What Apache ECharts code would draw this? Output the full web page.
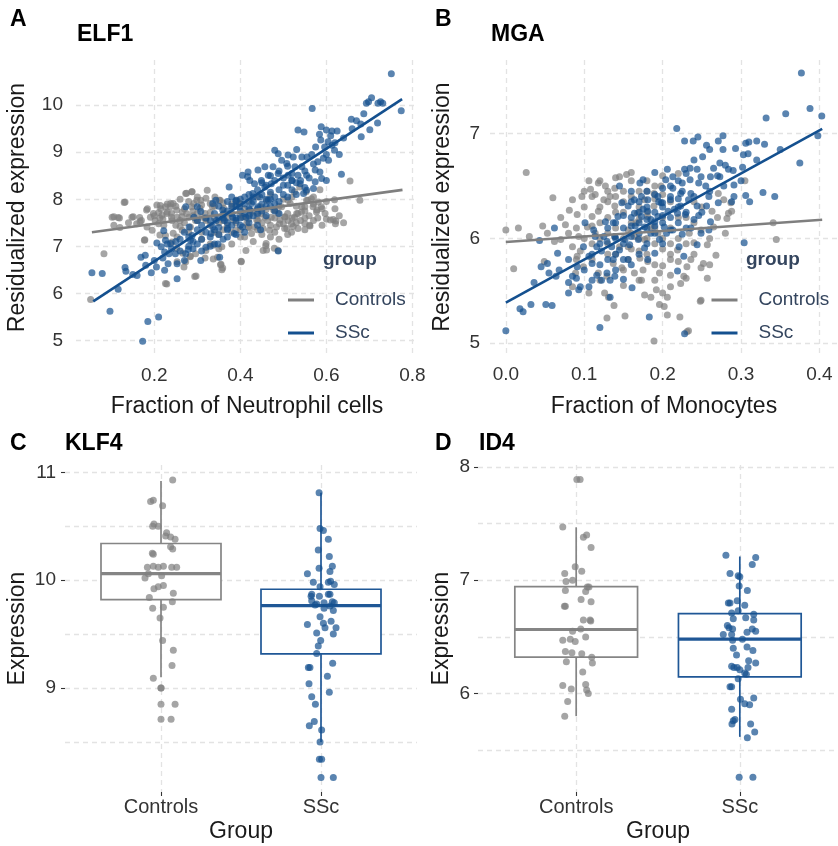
<!DOCTYPE html>
<html>
<head>
<meta charset="utf-8">
<script src="https://cdn.jsdelivr.net/npm/echarts@6/dist/echarts.min.js"></script>
<style>
  html, body { margin: 0; padding: 0; background: #ffffff; }
  #chart { width: 838px; height: 846px; }
</style>
</head>
<body>
<div id="chart"></div>
<script>
// ---------- ELF1 vs neutrophil fraction: [fraction, residualized expression] ----------
const elf1Controls = [
  [0.655,8.39],[0.678,7.98],[0.622,7.54],[0.597,7.70],[0.609,7.56],[0.562,7.43],[0.523,7.42],[0.508,7.38],
  [0.461,6.92],[0.459,7.01],[0.479,6.96],[0.402,6.68],[0.354,6.61],[0.359,6.54],[0.337,6.73],[0.318,6.75],
  [0.297,6.37],[0.229,6.20],[0.283,6.78],[0.266,6.85],[0.252,6.96],[0.178,7.14],[0.213,7.24],[0.244,7.28],
  [0.083,6.84],[0.132,7.94],[0.106,7.63],[0.119,7.60],[0.151,7.63],[0.167,7.52],[0.182,7.77],[0.198,7.70],
  [0.206,7.88],[0.213,7.60],[0.229,7.70],[0.237,7.84],[0.244,7.91],[0.252,7.77],[0.264,7.63],[0.275,7.70],
  [0.287,7.84],[0.275,8.13],[0.287,8.16],[0.299,7.98],[0.306,7.81],[0.318,7.70],[0.330,7.91],[0.341,8.05],
  [0.353,7.98],[0.361,7.81],[0.376,7.70],[0.384,7.56],[0.392,7.98],[0.399,7.91],[0.407,7.63],[0.415,7.49],
  [0.423,7.70],[0.438,7.56],[0.446,7.84],[0.461,7.98],[0.477,7.77],[0.492,7.56],[0.504,7.63],[0.516,7.91],
  [0.531,7.70],[0.543,7.84],[0.554,7.98],[0.570,8.05],[0.585,8.20],[0.578,7.77],[0.130,7.93],[0.102,7.62],
  [0.116,7.61],[0.106,7.45],[0.148,7.62],[0.052,5.87],[0.177,7.13],[0.166,7.61],[0.159,7.48],[0.184,7.80],
  [0.214,7.87],[0.226,7.84],[0.238,7.91],[0.230,7.73],[0.218,7.66],[0.202,7.55],[0.191,7.62],[0.183,7.41],
  [0.195,7.34],[0.210,7.48],[0.222,7.45],[0.241,7.55],[0.253,7.62],[0.265,7.73],[0.273,8.12],[0.288,8.16],
  [0.292,7.91],[0.308,7.98],[0.323,8.19],[0.312,7.62],[0.296,7.55],[0.284,7.41],[0.265,7.34],[0.253,7.20],
  [0.241,7.09],[0.226,7.23],[0.335,7.84],[0.351,7.98],[0.363,7.70],[0.382,7.84],[0.405,7.62],[0.398,7.91],
  [0.337,7.02],[0.357,6.99],[0.347,6.77],[0.355,6.62],[0.357,6.50],[0.296,6.84],[0.284,6.79],[0.273,6.67],
  [0.253,6.67],[0.269,6.56],[0.226,6.21],[0.294,6.36],[0.320,6.91],[0.402,6.67],[0.413,6.91],[0.619,7.99],
  [0.616,7.57],[0.621,7.48],[0.577,7.73],[0.588,7.84],[0.581,7.94],[0.565,8.01],[0.557,7.98],[0.569,7.84],
  [0.550,7.84],[0.542,7.73],[0.534,7.70],[0.526,7.62],[0.519,7.48],[0.511,7.55],[0.503,7.62],[0.488,7.70],
  [0.496,7.84],[0.480,7.77],[0.472,7.62],[0.464,7.55],[0.457,7.62],[0.449,7.70],[0.441,7.55],[0.433,7.41],
  [0.426,7.27],[0.418,7.41],[0.453,7.38],[0.468,7.34],[0.484,7.41],[0.491,7.48],[0.503,7.38],[0.519,7.30],
  [0.534,7.38],[0.550,7.48],[0.561,7.45],[0.460,7.06],[0.453,6.91],[0.488,6.91],[0.526,8.16],[0.538,8.26],
  [0.553,8.16],[0.511,7.98],[0.370,7.45],[0.390,7.35],[0.410,7.20],[0.430,7.10],[0.350,7.25],[0.330,7.45],
  [0.310,7.30],[0.290,7.65],[0.270,7.50],[0.250,7.45],[0.240,7.70],[0.260,8.00],[0.300,8.05],[0.320,8.02],
  [0.340,7.60],[0.360,7.55],[0.380,7.30],[0.400,7.20],[0.420,7.95],[0.440,8.05],[0.470,8.10],[0.500,8.00],
  [0.520,8.05],[0.550,7.60],[0.570,7.55],[0.590,7.45],[0.600,7.95],[0.630,7.65],[0.620,7.80],[0.640,7.50],
  [0.280,7.95],[0.215,7.80],[0.200,7.65],[0.170,7.55],[0.140,7.50],[0.120,7.40],
  [0.210,7.72],[0.220,7.58],[0.230,7.90],[0.240,7.62],[0.250,7.85],[0.260,7.55],[0.270,7.80],[0.280,7.62],
  [0.290,7.75],[0.300,7.55],[0.310,7.88],[0.320,7.58],[0.330,7.72],[0.340,7.85],[0.350,7.50],[0.360,7.92],
  [0.370,7.62],[0.380,7.90],[0.390,7.50],[0.400,7.68],[0.410,7.80],[0.420,7.58],[0.430,7.75],[0.440,7.65],
  [0.450,7.50],[0.460,7.78],[0.470,7.45],[0.480,7.60],[0.490,7.85],[0.500,7.48],[0.510,7.70],[0.520,7.60],
  [0.530,7.85],[0.540,7.55],[0.550,7.75],[0.560,7.65],[0.570,7.90],[0.580,7.60],[0.590,7.80],[0.600,7.58],
  [0.260,7.42],[0.280,7.30],[0.310,7.15],[0.330,7.05],[0.350,6.95],[0.380,7.05],[0.400,7.35],[0.420,7.40],
  [0.450,7.25],[0.470,7.20],[0.490,7.15],[0.360,7.35],[0.340,7.30],[0.320,7.55],[0.300,7.70],[0.440,7.35],
  [0.480,7.30],[0.510,7.25],[0.530,7.50],[0.550,7.35]
];
const elf1SSc = [
  [0.055,6.44],[0.079,6.42],[0.116,6.09],[0.097,5.62],[0.132,6.55],[0.134,6.47],[0.160,6.38],[0.169,6.77],
  [0.179,6.81],[0.185,5.40],[0.210,5.50],[0.173,4.98],[0.193,6.44],[0.205,6.56],[0.206,7.07],[0.216,6.99],
  [0.224,6.88],[0.234,6.84],[0.222,7.33],[0.226,7.13],[0.238,7.06],[0.249,6.84],[0.253,6.63],[0.232,6.63],
  [0.224,6.49],[0.253,6.31],[0.273,6.84],[0.279,6.93],[0.284,7.13],[0.288,7.23],[0.281,7.41],[0.273,7.84],
  [0.292,7.62],[0.300,7.84],[0.308,7.74],[0.308,6.70],[0.320,6.98],[0.332,7.27],[0.336,7.41],[0.344,7.55],
  [0.348,7.05],[0.352,6.77],[0.374,8.26],[0.405,8.51],[0.417,8.48],[0.390,7.98],[0.359,7.77],[0.363,7.55],
  [0.382,7.62],[0.398,7.84],[0.405,7.41],[0.413,7.62],[0.343,7.98],[0.336,7.91],[0.370,7.38],[0.386,7.27],
  [0.751,10.67],[0.774,9.88],[0.705,10.16],[0.698,10.07],[0.693,10.04],[0.720,10.04],[0.726,10.07],[0.731,10.04],
  [0.658,9.70],[0.670,9.67],[0.687,9.82],[0.701,9.48],[0.719,9.62],[0.681,9.33],[0.567,9.93],[0.588,9.54],
  [0.600,9.47],[0.613,9.45],[0.625,9.45],[0.584,9.38],[0.587,9.26],[0.604,9.22],[0.613,9.15],[0.619,9.04],
  [0.596,9.11],[0.575,9.11],[0.534,9.47],[0.548,9.43],[0.531,9.06],[0.543,8.90],[0.555,8.90],[0.566,8.95],
  [0.593,8.87],[0.605,8.83],[0.574,8.62],[0.635,8.53],[0.480,9.04],[0.488,8.97],[0.511,8.94],[0.523,8.90],
  [0.496,8.83],[0.508,8.76],[0.527,8.69],[0.543,8.69],[0.476,8.69],[0.457,8.69],[0.441,8.62],[0.465,8.51],
  [0.488,8.55],[0.511,8.51],[0.534,8.51],[0.554,8.51],[0.520,8.40],[0.539,8.33],[0.554,8.19],[0.570,8.23],
  [0.547,8.12],[0.585,8.58],[0.589,8.44],[0.574,8.37],[0.600,8.40],[0.418,8.58],[0.422,8.40],[0.433,8.33],
  [0.449,8.40],[0.457,8.26],[0.472,8.33],[0.429,8.12],[0.445,8.05],[0.426,7.91],[0.441,7.84],[0.465,7.98],
  [0.480,7.91],[0.422,7.77],[0.447,7.35],[0.488,6.90],[0.330,7.55],[0.340,7.70],[0.350,7.62],[0.350,7.85],
  [0.360,7.60],[0.370,7.75],[0.370,7.95],[0.380,7.70],[0.380,8.05],[0.390,7.60],[0.390,7.85],[0.400,7.75],
  [0.400,8.00],[0.410,7.70],[0.410,7.90],[0.420,7.80],[0.420,8.10],[0.430,7.65],[0.430,7.95],[0.440,7.80],
  [0.440,8.20],[0.450,7.90],[0.450,8.10],[0.460,8.00],[0.460,8.30],[0.470,7.85],[0.470,8.15],[0.480,8.05],
  [0.480,8.40],[0.490,8.20],[0.500,8.10],[0.500,8.45],[0.510,8.30],[0.520,8.20],[0.520,8.55],[0.530,8.35],
  [0.540,8.40],[0.550,8.25],[0.310,7.45],[0.320,7.30],[0.330,7.20],[0.300,7.35],[0.290,7.10],[0.300,7.05],
  [0.310,6.90],[0.340,7.05],[0.360,7.15],[0.370,7.35],[0.390,7.25],[0.400,7.45],[0.420,7.50],[0.440,7.45],
  [0.460,7.65],[0.490,7.70],[0.270,7.30],[0.280,7.00],[0.260,6.90],[0.250,7.10],[0.230,7.05],[0.350,7.40],
  [0.380,7.45],[0.410,7.30],
  [0.360,7.68],[0.370,7.50],[0.380,7.85],[0.390,7.95],[0.400,7.60],[0.410,8.05],[0.420,7.65],[0.430,8.05],
  [0.440,7.70],[0.450,7.75],[0.460,7.85],[0.470,8.00],[0.480,7.75],[0.490,7.95],[0.500,8.30],[0.510,8.05],
  [0.520,8.40],[0.530,8.10],[0.550,8.60],[0.560,8.45],[0.570,8.75],[0.580,8.80],[0.600,8.95],[0.620,9.20],
  [0.640,9.30],[0.660,9.50],[0.680,9.60],[0.630,8.95],[0.610,9.35],[0.320,7.60],[0.340,7.35],[0.300,7.55],
  [0.280,7.20],[0.260,7.15],[0.240,6.95],[0.220,6.75],[0.200,6.70],[0.180,6.60],[0.150,6.40],[0.270,6.70],
  [0.290,6.95],[0.310,7.15],[0.330,7.00],[0.350,7.25],[0.370,7.20],[0.390,7.55],[0.450,8.35],[0.470,8.50],
  [0.490,8.60],[0.510,8.70]
];
// fitted trend end points [fraction, expression]
const elf1FitControls = [[0.055,7.30],[0.777,8.20]];
const elf1FitSSc = [[0.058,5.83],[0.776,10.13]];

// ---------- MGA vs monocyte fraction ----------
const mgaControls = [
  [0.026,6.63],[0.000,6.08],[0.016,6.10],[0.010,5.71],[0.030,6.02],[0.047,6.12],[0.060,6.39],[0.053,6.05],
  [0.062,5.97],[0.049,5.78],[0.070,5.99],[0.076,6.13],[0.081,6.27],[0.085,6.37],[0.091,6.23],[0.097,6.40],
  [0.093,6.02],[0.106,6.55],[0.108,6.47],[0.114,6.42],[0.118,6.53],[0.127,6.50],[0.125,6.37],[0.133,6.40],
  [0.139,6.48],[0.145,6.59],[0.154,6.61],[0.160,6.63],[0.139,6.31],[0.118,6.26],[0.110,6.21],[0.104,6.11],
  [0.114,6.05],[0.085,5.92],[0.091,5.83],[0.095,5.88],[0.089,5.67],[0.099,5.73],[0.085,5.54],[0.106,5.48],
  [0.118,5.67],[0.129,5.64],[0.137,5.76],[0.126,5.48],[0.131,5.44],[0.138,5.36],[0.129,5.24],[0.152,5.26],
  [0.148,5.72],[0.156,5.80],[0.164,5.67],[0.173,5.60],[0.177,5.46],[0.185,5.44],[0.189,5.02],[0.175,5.70],
  [0.181,5.78],[0.196,5.67],[0.192,5.51],[0.200,5.48],[0.196,5.37],[0.200,5.74],[0.171,5.81],[0.156,5.92],
  [0.145,5.92],[0.139,6.02],[0.156,6.08],[0.166,6.15],[0.168,6.24],[0.181,6.21],[0.189,6.31],[0.177,6.37],
  [0.189,6.43],[0.198,6.50],[0.185,6.11],[0.194,6.05],[0.177,5.99],[0.164,6.02],[0.305,6.55],[0.341,6.15],
  [0.345,5.99],[0.282,6.19],[0.268,5.84],[0.257,5.94],[0.252,5.76],[0.249,5.72],[0.257,5.62],[0.236,5.80],
  [0.231,5.73],[0.227,5.64],[0.223,5.57],[0.210,5.54],[0.206,5.44],[0.202,5.35],[0.222,5.25],[0.206,5.27],
  [0.233,5.12],[0.231,5.11],[0.249,5.41],[0.210,5.80],[0.219,5.89],[0.240,5.96],[0.234,6.05],[0.249,6.08],
  [0.263,6.26],[0.271,6.43],[0.278,6.37],[0.287,6.34],[0.288,6.26],[0.265,6.11],[0.284,6.24],[0.248,5.40],
  [0.120,6.30],[0.130,6.20],[0.140,6.10],[0.150,6.25],[0.160,6.05],[0.170,6.45],[0.180,6.00],[0.190,5.95],
  [0.200,6.20],[0.210,6.10],[0.220,6.00],[0.230,6.20],[0.240,6.35],[0.120,6.00],[0.130,5.85],[0.150,5.70],
  [0.170,5.88],[0.190,5.75],[0.210,5.65],[0.100,6.30],[0.110,5.95],[0.140,6.40],[0.160,6.55],[0.180,6.55],
  [0.200,6.60],[0.220,6.62],[0.190,6.38],[0.170,6.30],[0.150,6.00],[0.130,6.45],
  [0.090,6.10],[0.100,6.00],[0.110,6.40],[0.120,6.15],[0.130,6.05],[0.140,6.25],[0.150,6.45],[0.160,6.15],
  [0.170,6.00],[0.180,6.25],[0.190,6.10],[0.200,5.90],[0.210,6.35],[0.220,6.20],[0.230,5.95],[0.240,6.15],
  [0.250,6.30],[0.110,5.80],[0.120,5.60],[0.130,6.35],[0.140,5.85],[0.150,5.55],[0.160,5.90],[0.170,5.60],
  [0.180,5.85],[0.190,5.60],[0.200,6.00],[0.210,5.85],[0.220,5.78],[0.230,5.62],[0.100,6.45],[0.120,6.55],
  [0.140,6.58],[0.160,6.40],[0.180,6.45],[0.200,6.42],[0.070,6.20],[0.080,6.05],[0.090,5.80],[0.260,6.00],
  [0.270,6.20],[0.280,6.05],[0.150,6.35],[0.170,6.18],[0.190,6.50],[0.130,5.95],[0.110,6.12],[0.240,5.85],
  [0.260,5.75],[0.210,5.95]
];
const mgaSSc = [
  [0.000,5.12],[0.018,5.33],[0.022,5.30],[0.032,5.37],[0.051,5.37],[0.059,5.36],[0.036,5.58],[0.045,5.73],
  [0.053,5.76],[0.055,5.67],[0.064,5.64],[0.066,5.86],[0.080,5.48],[0.093,5.51],[0.043,5.98],[0.062,6.10],
  [0.068,5.70],[0.080,5.80],[0.085,5.64],[0.091,5.73],[0.095,5.54],[0.106,5.54],[0.110,5.60],[0.116,5.65],
  [0.122,5.60],[0.129,5.67],[0.133,5.60],[0.139,5.64],[0.150,5.61],[0.099,5.92],[0.106,5.83],[0.110,5.76],
  [0.116,5.92],[0.122,5.88],[0.125,6.02],[0.129,5.97],[0.135,5.92],[0.137,5.80],[0.139,6.02],[0.145,5.89],
  [0.152,5.99],[0.156,5.80],[0.161,5.53],[0.133,5.44],[0.120,5.15],[0.114,6.02],[0.101,6.15],[0.112,6.08],
  [0.127,6.16],[0.137,6.15],[0.143,6.21],[0.148,6.34],[0.156,6.31],[0.164,6.37],[0.173,6.40],[0.160,6.45],
  [0.164,6.24],[0.173,6.21],[0.181,6.26],[0.177,6.11],[0.185,6.05],[0.190,6.16],[0.171,6.53],[0.175,6.56],
  [0.145,6.50],[0.190,6.63],[0.158,5.94],[0.169,5.99],[0.177,5.91],[0.181,5.80],[0.190,5.86],[0.183,5.25],
  [0.196,5.99],[0.194,6.21],[0.198,6.34],[0.181,6.37],[0.194,6.40],[0.377,7.58],[0.332,7.15],[0.357,7.19],
  [0.388,7.24],[0.403,7.17],[0.398,6.98],[0.375,6.72],[0.218,7.05],[0.228,6.93],[0.239,6.93],[0.245,6.97],
  [0.271,6.93],[0.277,6.98],[0.256,6.89],[0.293,6.86],[0.306,6.91],[0.310,6.92],[0.320,6.93],[0.303,6.80],
  [0.309,6.81],[0.277,6.85],[0.273,6.72],[0.251,6.78],[0.265,6.67],[0.261,6.59],[0.273,6.59],[0.284,6.66],
  [0.302,6.68],[0.278,6.50],[0.291,6.51],[0.291,6.40],[0.288,6.35],[0.306,6.41],[0.311,6.35],[0.328,6.44],
  [0.343,6.40],[0.304,5.96],[0.219,5.69],[0.227,5.83],[0.228,5.09],[0.228,6.66],[0.235,6.67],[0.244,6.66],
  [0.249,6.59],[0.255,6.50],[0.235,6.56],[0.225,6.53],[0.213,6.59],[0.206,6.66],[0.204,6.56],[0.213,6.48],
  [0.223,6.43],[0.236,6.43],[0.246,6.53],[0.259,6.40],[0.271,6.34],[0.256,6.31],[0.244,6.31],[0.233,6.37],
  [0.223,6.31],[0.210,6.37],[0.200,6.34],[0.207,6.26],[0.219,6.24],[0.229,6.23],[0.240,6.18],[0.246,6.22],
  [0.261,6.16],[0.259,6.08],[0.249,6.05],[0.236,6.10],[0.225,6.04],[0.213,6.08],[0.202,6.11],[0.221,5.92],
  [0.244,5.94],[0.150,6.10],[0.160,6.20],[0.170,6.05],[0.170,6.15],[0.180,6.10],[0.180,6.30],[0.190,6.25],
  [0.190,6.05],[0.200,6.15],[0.200,6.30],[0.210,6.20],[0.210,6.40],[0.220,6.15],[0.220,6.30],[0.230,6.25],
  [0.140,6.00],[0.150,5.95],[0.160,6.35],[0.165,6.12],[0.175,6.28],[0.185,6.18],[0.195,6.35],[0.205,6.05],
  [0.215,6.28],[0.225,6.45],[0.130,5.80],[0.120,5.75],[0.140,5.70],[0.160,5.75],[0.180,5.95],
  [0.150,6.22],[0.160,6.02],[0.170,6.35],[0.180,6.18],[0.190,6.12],[0.200,6.22],[0.210,6.08],[0.220,6.38],
  [0.230,6.10],[0.240,6.40],[0.190,6.42],[0.170,6.25],[0.160,6.12],[0.140,6.15],[0.130,6.10],[0.120,5.95],
  [0.110,5.85],[0.100,5.70],[0.090,5.62],[0.080,5.58],[0.140,5.85],[0.150,5.80],[0.170,5.85],[0.200,5.95],
  [0.250,6.25],[0.260,6.45],[0.270,6.60],[0.280,6.70],[0.290,6.65],[0.300,6.55],[0.320,6.75],[0.330,6.90],
  [0.350,6.85],[0.240,6.75],[0.260,6.85],[0.220,6.55],[0.210,6.50],[0.230,6.62],[0.180,6.45],[0.200,6.48]
];
const mgaFitControls = [[0.000,5.966],[0.4035,6.179]];
const mgaFitSSc = [[0.000,5.388],[0.4035,7.047]];

// ---------- KLF4 / ID4 expression by group (1 = Controls, 2 = SSc, jittered) ----------
const groups = ['Controls', 'SSc'];
const klf4Controls = [
  [1.073,10.93],[0.952,10.74],[0.935,10.73],[1.010,10.69],[0.956,10.52],[0.948,10.50],[0.983,10.50],
  [1.035,10.44],[1.029,10.41],[1.060,10.40],[1.088,10.38],[1.060,10.31],[1.073,10.29],[0.946,10.25],
  [0.952,10.24],[0.915,10.12],[0.952,10.13],[0.983,10.12],[1.015,10.13],[1.067,10.12],[1.098,10.12],
  [0.921,10.06],[0.900,10.02],[1.004,10.04],[0.956,9.92],[0.983,9.94],[1.015,9.95],[0.927,9.84],
  [1.077,9.88],[1.071,9.80],[0.948,9.74],[1.015,9.75],[0.994,9.65],[1.010,9.44],[1.077,9.35],[1.069,9.21],
  [0.952,9.09],[1.000,9.00],[1.000,9.00],[1.000,8.85],[1.088,8.85],[1.000,8.71],[1.063,8.71]
];
const klf4SSc = [
  [1.988,10.81],[1.994,10.48],[2.015,10.46],[2.046,10.38],[1.983,10.28],[2.052,10.22],[2.071,10.13],
  [1.988,10.11],[2.056,10.08],[1.915,10.06],[1.952,9.98],[2.046,9.98],[2.060,9.99],[2.083,9.96],[1.994,9.94],
  [1.942,9.87],[1.938,9.85],[1.990,9.85],[2.046,9.87],[2.056,9.87],[1.942,9.81],[1.973,9.78],[2.019,9.79],
  [2.071,9.80],[2.083,9.79],[1.963,9.77],[2.019,9.74],[2.056,9.76],[2.077,9.72],[1.994,9.66],[1.915,9.59],
  [2.015,9.60],[2.063,9.62],[2.025,9.56],[2.094,9.56],[2.077,9.50],[1.973,9.51],[1.998,9.44],[1.983,9.39],
  [1.973,9.32],[1.921,9.19],[1.931,9.19],[2.073,9.23],[2.040,9.11],[1.925,9.04],[2.052,8.96],[1.942,8.92],
  [1.965,8.85],[1.927,8.65],[1.958,8.69],[2.004,8.61],[1.994,8.50],[1.990,8.34],[2.004,8.34],[2.000,8.17],
  [2.077,8.17]
];
const id4Controls = [
  [1.004,7.89],[1.024,7.89],[0.918,7.47],[1.044,7.38],[1.064,7.40],[1.091,7.29],[0.994,7.12],[1.034,7.08],
  [0.930,7.06],[0.938,6.99],[0.978,7.00],[1.068,6.94],[1.078,6.94],[0.934,6.91],[1.058,6.90],[1.030,6.83],
  [1.091,6.81],[0.928,6.77],[0.934,6.77],[1.044,6.65],[1.085,6.65],[1.089,6.64],[0.978,6.55],[1.028,6.57],
  [0.964,6.48],[0.994,6.46],[0.918,6.47],[1.058,6.50],[0.934,6.37],[0.974,6.36],[1.034,6.35],[1.095,6.32],
  [1.099,6.27],[0.940,6.28],[1.040,6.19],[0.918,6.07],[0.970,6.04],[1.058,6.08],[1.064,6.03],[1.074,6.00],
  [0.948,5.93],[0.930,5.80]
];
const id4SSc = [
  [1.915,7.22],[2.097,7.20],[2.076,7.14],[1.940,7.06],[1.990,7.04],[2.000,7.03],[1.996,6.95],[2.046,6.91],
  [1.930,6.80],[1.940,6.80],[1.984,6.82],[2.030,6.78],[1.990,6.73],[1.950,6.71],[2.085,6.70],[1.960,6.66],
  [2.036,6.67],[2.085,6.65],[1.924,6.60],[1.934,6.58],[1.956,6.57],[2.076,6.57],[2.044,6.54],[2.097,6.55],
  [1.899,6.52],[1.950,6.52],[1.956,6.47],[2.016,6.48],[2.044,6.41],[1.960,6.40],[2.080,6.38],[1.980,6.34],
  [2.054,6.29],[2.097,6.27],[1.950,6.24],[1.964,6.23],[1.984,6.23],[2.050,6.23],[2.000,6.21],[2.030,6.18],
  [2.040,6.17],[1.990,6.13],[1.940,6.06],[1.950,6.06],[2.004,5.95],[2.085,5.96],[2.030,5.91],[2.060,5.90],
  [1.950,5.86],[1.970,5.77],[1.960,5.76],[1.952,5.73],[2.066,5.73],[2.091,5.66],[2.046,5.61],[1.996,5.26],
  [2.080,5.26]
];
// box statistics: [group, lower whisker, Q1, median, Q3, upper whisker]
const klf4Box = [[1, 9.10, 9.82, 10.06, 10.34, 10.92], [2, 8.50, 9.316, 9.765, 9.916, 10.81]];
const id4Box = [[1, 5.80, 6.322, 6.565, 6.944, 7.468], [2, 5.617, 6.147, 6.48, 6.705, 7.21]];

// ---------- tick values ----------
const elf1XTicks = [0.2, 0.4, 0.6, 0.8];
const elf1YTicks = [5, 6, 7, 8, 9, 10];
const mgaXTicks = [0.0, 0.1, 0.2, 0.3, 0.4];
const mgaYTicks = [5, 6, 7];
const groupTicks = [1, 2];
const klf4YTicks = [9, 10, 11];
const klf4GridLines = [8.5, 9, 9.5, 10, 10.5, 11];
const id4YTicks = [6, 7, 8];
const id4GridLines = [5.5, 6, 6.5, 7, 7.5, 8];

// ---------- styling ----------
const FONT = '"Liberation Sans", Arial, Helvetica, sans-serif';
const GRAY = '#7f7f7f';
const BLUE = '#14508f';
const BOX_GRAY = '#858585';
const BOX_BLUE = '#1f5796';
const LEGEND_TEXT = '#34455e';
const gridLine = { show: true, lineStyle: { color: '#e3e3e3', width: 1.3, type: [5, 4] } };

function valueAxis(gridIndex, min, max, ticks, o) {
  o = o || {};
  const fs = o.fontSize || 19;
  return {
    type: 'value', gridIndex: gridIndex, min: min, max: max,
    axisLine: { show: false },
    axisTick: { show: !!o.tick, customValues: ticks, length: 4, lineStyle: { color: '#333333', width: 1.1 } },
    axisLabel: {
      show: o.label !== false, customValues: ticks, margin: o.margin || 8,
      fontSize: fs, lineHeight: fs, color: '#333333', fontFamily: FONT, formatter: o.fmt
    },
    splitLine: o.grid === false ? { show: false } : gridLine,
    name: o.name || '', nameLocation: 'middle', nameGap: o.nameGap || 0, nameRotate: o.rotate || 0,
    nameTextStyle: { fontSize: 23, lineHeight: 23, color: '#1a1a1a', fontFamily: FONT }
  };
}
const oneDecimal = v => v.toFixed(1);
const groupName = v => groups[Math.round(v) - 1];

function scatter(name, data, color, x, y) {
  return {
    type: 'scatter', name: name, data: data, xAxisIndex: x, yAxisIndex: y,
    symbolSize: 7, itemStyle: { color: color, opacity: 0.7 }, z: 2, silent: true
  };
}
function trend(name, data, color, x, y) {
  return {
    type: 'line', name: name, data: data, xAxisIndex: x, yAxisIndex: y,
    symbol: 'none', showSymbol: false, lineStyle: { color: color, width: 2.6 }, z: 3, silent: true
  };
}
function boxes(data, x, y) {
  const colors = [BOX_GRAY, BOX_BLUE];
  return {
    type: 'custom', xAxisIndex: x, yAxisIndex: y, z: 1, silent: true,
    data: data, encode: { x: 0, y: [1, 2, 3, 4, 5] },
    renderItem: function (params, api) {
      const g = api.value(0);
      const lo = api.coord([g, api.value(1)]);
      const q1 = api.coord([g, api.value(2)]);
      const md = api.coord([g, api.value(3)]);
      const q3 = api.coord([g, api.value(4)]);
      const hi = api.coord([g, api.value(5)]);
      const half = api.size([0.75, 0])[0] / 2;
      const c = colors[params.dataIndex];
      return {
        type: 'group', children: [
          { type: 'line', shape: { x1: hi[0], y1: hi[1], x2: q3[0], y2: q3[1] }, style: { stroke: c, lineWidth: 1.7 } },
          { type: 'line', shape: { x1: q1[0], y1: q1[1], x2: lo[0], y2: lo[1] }, style: { stroke: c, lineWidth: 1.7 } },
          { type: 'rect', shape: { x: q3[0] - half, y: q3[1], width: half * 2, height: q1[1] - q3[1] },
            style: { fill: '#ffffff', stroke: c, lineWidth: 1.7 } },
          { type: 'line', shape: { x1: md[0] - half, y1: md[1], x2: md[0] + half, y2: md[1] }, style: { stroke: c, lineWidth: 3.2 } }
        ]
      };
    }
  };
}
function headline(text, left, top, size, color) {
  return {
    text: text, left: left, top: top, padding: 0,
    textStyle: { fontSize: size, lineHeight: size, fontWeight: 'bold', color: color || '#000000', fontFamily: FONT }
  };
}
function groupLegend(left, top) {
  return {
    orient: 'vertical', left: left, top: top, padding: 0, itemGap: 14,
    itemWidth: 26, itemHeight: 3, selectedMode: false,
    textStyle: { fontSize: 19, lineHeight: 19, color: LEGEND_TEXT, fontFamily: FONT, padding: [0, 0, 0, 16] },
    data: [
      { name: 'Controls', icon: 'rect', itemStyle: { color: GRAY, opacity: 1, borderWidth: 0 } },
      { name: 'SSc', icon: 'rect', itemStyle: { color: BLUE, opacity: 1, borderWidth: 0 } }
    ]
  };
}

const option = {
  animation: false,
  backgroundColor: '#ffffff',
  textStyle: { fontFamily: FONT },
  title: [
    headline('A', 10, 8.5, 23), headline('ELF1', 77, 23.5, 23),
    headline('B', 435, 8.5, 23), headline('MGA', 491, 23.5, 23),
    headline('C', 10, 432.5, 23), headline('KLF4', 65, 432.5, 23),
    headline('D', 435, 432.5, 23), headline('ID4', 479, 432.5, 23),
    headline('group', 323, 250.5, 19, LEGEND_TEXT), headline('group', 746, 250.5, 19, LEGEND_TEXT)
  ],
  legend: [groupLegend(288, 290.5), groupLegend(711.5, 290.5)],
  grid: [
    { left: 76, top: 60, width: 342, height: 295 },
    { left: 490, top: 60, width: 353, height: 294 },
    { left: 65, top: 465, width: 352, height: 327 },
    { left: 478, top: 465, width: 365, height: 327 }
  ],
  xAxis: [
    valueAxis(0, 0.018, 0.813, elf1XTicks, { fmt: oneDecimal, margin: 11.5, name: 'Fraction of Neutrophil cells', nameGap: 40 }),
    valueAxis(1, -0.0202, 0.4237, mgaXTicks, { fmt: oneDecimal, margin: 11.5, name: 'Fraction of Monocytes', nameGap: 41 }),
    valueAxis(2, 0.4, 2.6, groupTicks, { fmt: groupName, tick: true, margin: 5, fontSize: 20, name: 'Group', nameGap: 28.5 }),
    valueAxis(3, 0.4, 2.6, groupTicks, { fmt: groupName, tick: true, margin: 5, fontSize: 20, name: 'Group', nameGap: 28.5 })
  ],
  yAxis: [
    valueAxis(0, 4.69, 10.96, elf1YTicks, { margin: 13, name: 'Residualized expression', nameGap: 47, rotate: 90 }),
    valueAxis(1, 4.897, 7.704, mgaYTicks, { margin: 10, name: 'Residualized expression', nameGap: 36, rotate: 90 }),
    valueAxis(2, 8.036, 11.068, klf4YTicks, { tick: true, grid: false, margin: 9, name: 'Expression', nameGap: 36, rotate: 90 }),
    valueAxis(2, 8.036, 11.068, klf4GridLines, { label: false }),
    valueAxis(3, 5.13, 8.018, id4YTicks, { tick: true, grid: false, margin: 8, name: 'Expression', nameGap: 24.5, rotate: 90 }),
    valueAxis(3, 5.13, 8.018, id4GridLines, { label: false })
  ],
  series: [
    scatter('Controls', elf1Controls, GRAY, 0, 0),
    scatter('SSc', elf1SSc, BLUE, 0, 0),
    trend('Controls', elf1FitControls, GRAY, 0, 0),
    trend('SSc', elf1FitSSc, BLUE, 0, 0),
    scatter('Controls', mgaControls, GRAY, 1, 1),
    scatter('SSc', mgaSSc, BLUE, 1, 1),
    trend('Controls', mgaFitControls, GRAY, 1, 1),
    trend('SSc', mgaFitSSc, BLUE, 1, 1),
    boxes(klf4Box, 2, 2),
    scatter('Controls', klf4Controls, GRAY, 2, 2),
    scatter('SSc', klf4SSc, BLUE, 2, 2),
    boxes(id4Box, 3, 4),
    scatter('Controls', id4Controls, GRAY, 3, 4),
    scatter('SSc', id4SSc, BLUE, 3, 4)
  ]
};

const chart = echarts.init(document.getElementById('chart'), null, { renderer: 'canvas' });
chart.setOption(option);
</script>
</body>
</html>
